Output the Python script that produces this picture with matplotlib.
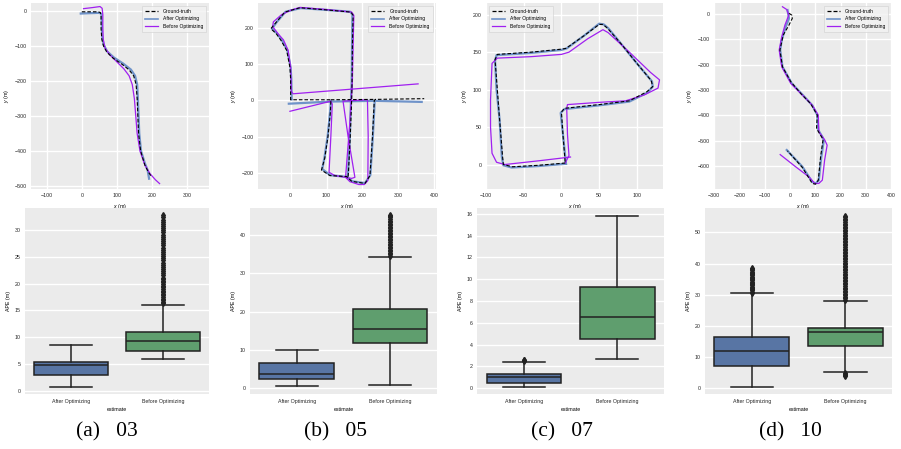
import numpy as np
import matplotlib
matplotlib.use("Agg")
import matplotlib.pyplot as plt
from matplotlib.lines import Line2D

nan = np.nan

# ---------------- trajectory data (metres) ----------------
# Sequence 03
gt03_x = [0, 20, 45, 53, 55, 55, 57, 62, 72, 90, 115, 135, 148, 155, 158, 160, 162, 168, 180, 190, 198]
gt03_y = [-2, -2, -2, -4, -15, -50, -80, -100, -118, -135, -152, -168, -185, -210, -250, -300, -350, -400, -440, -460, -472]
af03_x = [-3, 20, 50, 56, 57, 58, 62, 72, 92, 118, 140, 152, 158, 160, 162, 164, 169, 180, 188, 192]
af03_y = [-7, -6, -5, -8, -30, -70, -95, -115, -133, -150, -167, -185, -210, -250, -300, -350, -400, -435, -455, -479]
bf03_x = [5, 30, 52, 58, 60, 60, 61, 66, 80, 100, 120, 135, 144, 150, 154, 158, 166, 180, 195, 210, 222]
bf03_y = [7, 10, 13, 8, -10, -50, -80, -105, -125, -145, -165, -185, -210, -250, -300, -350, -400, -440, -465, -482, -493]

# Sequence 05
gt05_x = [160, 161, 166, 170, 171, 172, 174, 168, 100, 26, -16, -40, -55, -40, -27, -11, -2, 0, 0,
          112, 111, 104, 95, 86, 109, 156, 170, 207, 221, 228, 233, 236, 372, nan, 112, 236]
gt05_y = [-211, -200, -100, 2, 50, 150, 236, 245, 251, 257, 245, 217, 199, 185, 167, 139, 92, 60, 2,
          2, -30, -100, -160, -193, -208, -211, -224, -230, -208, -100, 0, 3, 5, nan, 2, 3]
af05_x = [158, 160, 165, 168, 170, 171, 172, 166, 100, 28, -14, -38, -52, -38, -25, -9, 0, 2, 3,
          nan, -5, 112, 236, 365,
          nan, 112, 110, 103, 94, 88, 110, 156, 172, 207, 222, 229, 234]
af05_y = [-213, -200, -100, 0, 50, 150, 238, 246, 251, 256, 246, 218, 199, 186, 168, 139, 92, 60, 3,
          nan, -9, -3, -1, -4,
          nan, -3, -30, -100, -160, -190, -207, -212, -224, -229, -207, -100, -3]
bf05_x = [355, 7, 2, 0, -7, -20, -35, -50, -48, -25, 0, 26, 100, 170, 176, 174, 172, 165, 153, 165, 190,
          205, 215, 216, 214, 212, 146, 160, 179, 170, 123, 107, 112, 116, 112, -2]
bf05_y = [46, 18.5, 25, 92, 139, 168, 185, 205, 218, 238, 250, 258, 252, 245, 236, 150, 55, -60, -213, -225, -233,
          -233, -222, -100, 0, 2, -2, -100, -213, -216, -208, -199, -100, -10, -2, -30]

# Sequence 07
gt07_x = [5, -30, -65, -77, -78, -82, -85, -88, -85, -40, 0, 6, 30, 50, 55, 61, 80, 100, 119, 121, 113, 90, 50, 4, 0, 2, 5]
gt07_y = [2, -1, -3, 0, 10, 60, 100, 140, 147, 150, 154, 155, 172, 187, 187, 182, 160, 135, 112, 104, 97, 85, 80, 75, 70, 40, 2]
af07_x = [6, -30, -66, -77, -79, -82, -86, -88, -86, -40, 0, 7, 30, 50, 56, 62, 80, 100, 120, 121, 114, 90, 50, 4, -1, 2, 6]
af07_y = [1, -2, -4, -1, 10, 60, 100, 139, 146, 149, 153, 155, 172, 188, 187, 182, 160, 135, 111, 104, 96, 84, 79, 74, 69, 40, 1]
bf07_x = [12, -30, -75, -86, -92, -94, -94, -92, -85, -40, 0, 10, 35, 55, 62, 90, 118, 130, 128, 110, 85, 50, 8, 7, 8, 10, 5]
bf07_y = [10, 5, 0, 3, 15, 50, 86, 135, 142, 144, 147, 150, 168, 180, 176, 150, 123, 113, 102, 93, 85, 83, 80, 75, 40, 12, 2]

# Sequence 10
gt10_x = [-4, 7, 9, -4, -27, -40, -30, 3, 42, 81, 108, 105, 117, 131, 121, 112, 101, 88, 49, -10]
gt10_y = [3, -4, -17, -43, -83, -142, -208, -267, -313, -353, -399, -452, -472, -495, -564, -656, -672, -669, -606, -540]
af10_x = [-10, -4, -17, -33, -39, -30, 7, 49, 88, 108, 112, 128, 134, 124, 114, 101, 88, 49, -13]
af10_y = [16, -17, -50, -103, -142, -208, -274, -318, -360, -399, -458, -485, -498, -564, -656, -669, -663, -603, -537]
bf10_x = [-30, -13, -5, -20, -33, -43, -33, 3, 49, 88, 112, 114, 138, 147, 137, 128, 114, 98, 75, 22, -39]
bf10_y = [29, 18, -4, -43, -90, -142, -208, -274, -320, -360, -399, -465, -498, -518, -577, -656, -669, -669, -643, -603, -555]

# ---------------- APE box statistics (m) ----------------
estimates = ["After Optimizing", "Before Optimizing"]
ape03_after = dict(whislo=0.8, q1=3.0, med=4.8, q3=5.5, whishi=8.5, fliers=[])
ape03_before = dict(whislo=5.9, q1=7.4, med=9.4, q3=11.0, whishi=16.1,
                    fliers=[16.3, 16.6, 16.9, 17.2, 17.5, 17.8, 18.1, 18.4, 18.7, 19.0, 19.3, 19.6, 19.9, 20.2,
                            20.5, 20.8, 21.1, 21.5, 21.9, 22.3, 22.7, 23.1, 23.5, 23.9, 24.3, 24.7, 25.1, 25.5,
                            25.9, 26.3, 26.7, 27.1, 27.5, 27.9, 28.3, 28.7, 29.1, 29.5, 29.9, 30.3, 30.7, 31.1,
                            31.5, 31.9, 32.3, 32.8])
ape05_after = dict(whislo=0.5, q1=2.3, med=3.8, q3=6.5, whishi=10.1, fliers=[])
ape05_before = dict(whislo=0.8, q1=11.7, med=15.4, q3=20.8, whishi=34.4,
                    fliers=[34.6, 35.0, 35.4, 35.8, 36.2, 36.6, 37.0, 37.4, 37.8, 38.2, 38.6, 39.0, 39.4, 39.8,
                            40.2, 40.6, 41.0, 41.4, 41.8, 42.2, 42.6, 43.0, 43.4, 43.8, 44.2, 44.6, 45.0, 45.2])
ape07_after = dict(whislo=0.15, q1=0.5, med=1.05, q3=1.3, whishi=2.45, fliers=[2.5, 2.55, 2.6])
ape07_before = dict(whislo=2.65, q1=4.55, med=6.55, q3=9.25, whishi=15.8, fliers=[])
ape10_after = dict(whislo=0.5, q1=7.2, med=12.0, q3=16.5, whishi=30.4,
                   fliers=[30.6, 31.0, 31.4, 31.8, 32.2, 32.6, 33.0, 33.4, 33.8, 34.2, 34.6, 35.0, 35.4, 35.8,
                           36.2, 36.6, 37.0, 37.4, 37.8, 38.2, 38.5])
ape10_before = dict(whislo=5.1, q1=13.7, med=18.0, q3=19.5, whishi=28.1,
                    fliers=[4.0, 4.3, 4.6, 4.9, 28.3, 28.8, 29.3, 29.8, 30.3, 30.8, 31.3, 31.8, 32.3, 32.8,
                            33.3, 33.8, 34.3, 34.8, 35.3, 35.8, 36.3, 36.8, 37.3, 37.8, 38.3, 38.8, 39.3, 39.8,
                            40.3, 40.8, 41.3, 41.8, 42.3, 42.8, 43.3, 43.8, 44.3, 44.8, 45.3, 45.8, 46.3, 46.8,
                            47.3, 47.8, 48.3, 48.8, 49.3, 49.8, 50.3, 50.8, 51.3, 51.8, 52.3, 52.8, 53.3, 53.8,
                            54.3, 54.8, 55.3])

captions = ["(a)   03", "(b)   05", "(c)   07", "(d)   10"]
legend_labels = ["Ground-truth", "After Optimizing", "Before Optimizing"]

# ---------------- styling ----------------
W, H = 901, 449
BG = "#EBEBEB"
C_GT = "black"
C_AF = "#6F93C9"
C_BF = "#A020F0"
C_BOX = ["#5875A4", "#5F9E6E"]
LINEC = "#222222"
TICK_FS = 3.8

plt.rcParams["font.family"] = ["Liberation Sans", "DejaVu Sans"]
plt.rcParams["mathtext.fontset"] = "custom"
plt.rcParams["mathtext.it"] = "Liberation Sans:italic"
plt.rcParams["mathtext.rm"] = "Liberation Sans"

fig = plt.figure(figsize=(W / 100, H / 100), dpi=100)
fig.patch.set_facecolor("white")


def box(x0, y0, x1, y1):
    return [x0 / W, 1 - y1 / H, (x1 - x0) / W, (y1 - y0) / H]


def style(ax):
    ax.set_facecolor(BG)
    for s in ax.spines.values():
        s.set_visible(False)
    ax.tick_params(length=0, pad=3.3, labelsize=TICK_FS, colors="#262626")
    ax.set_axisbelow(True)


top_boxes = [(31, 2.7, 209, 188.5), (258.3, 2.7, 435.7, 188.5), (486, 2.7, 663.3, 188.5), (714.3, 2.7, 891, 188.5)]
bot_boxes = [(25, 208.3, 209, 394.3), (250, 208.3, 436.7, 394.3), (477.3, 208.3, 664, 394.3), (705, 208.3, 892.3, 394.3)]

trajs = [
    (gt03_x, gt03_y, af03_x, af03_y, bf03_x, bf03_y),
    (gt05_x, gt05_y, af05_x, af05_y, bf05_x, bf05_y),
    (gt07_x, gt07_y, af07_x, af07_y, bf07_x, bf07_y),
    (gt10_x, gt10_y, af10_x, af10_y, bf10_x, bf10_y),
]
xlims = [(-145, 363), (-90, 404), (-100, 135), (-300, 400)]
ylims = [(-507, 24), (-244, 271), (-32, 216), (-689, 45)]
xticks = [[-100, 0, 100, 200, 300], [0, 100, 200, 300, 400], [-100, -50, 0, 50, 100],
          [-300, -200, -100, 0, 100, 200, 300, 400]]
yticks = [[0, -100, -200, -300, -400, -500], [-200, -100, 0, 100, 200], [0, 50, 100, 150, 200],
          [0, -100, -200, -300, -400, -500, -600]]
leg_loc = ["upper right", "upper right", "upper left", "upper right"]

apes = [(ape03_after, ape03_before), (ape05_after, ape05_before),
        (ape07_after, ape07_before), (ape10_after, ape10_before)]
bylims = [(-0.6, 34.0), (-1.6, 47.0), (-0.55, 16.5), (-1.9, 57.7)]
byticks = [[0, 5, 10, 15, 20, 25, 30], [0, 10, 20, 30, 40], [0, 2, 4, 6, 8, 10, 12, 14, 16],
           [0, 10, 20, 30, 40, 50]]
cap_x = [106.5, 335, 561.5, 790]

for i in range(4):
    ax = fig.add_axes(box(*top_boxes[i]))
    style(ax)
    ax.grid(True, color="white", lw=1.0)
    gx, gy, ax_, ay, bx, by = trajs[i]
    ax.plot(ax_, ay, color=C_AF, lw=1.6, zorder=2)
    ax.plot(bx, by, color=C_BF, lw=0.9, zorder=3)
    ax.plot(gx, gy, color=C_GT, lw=0.8, ls=(0, (3.2, 1.8)), zorder=4)
    ax.set_xlim(*xlims[i])
    ax.set_ylim(*ylims[i])
    ax.set_xticks(xticks[i])
    ax.set_yticks(yticks[i])
    ax.set_xlabel("$x$ (m)", fontsize=TICK_FS, labelpad=2.5)
    ax.set_ylabel("$y$ (m)", fontsize=TICK_FS, labelpad=2.5)
    handles = [Line2D([], [], color=C_GT, lw=0.9, ls=(0, (3.2, 1.6))),
               Line2D([], [], color=C_AF, lw=1.2),
               Line2D([], [], color=C_BF, lw=0.9)]
    leg = ax.legend(handles, legend_labels, loc=leg_loc[i], fontsize=3.6, frameon=True,
                    handlelength=2.6, borderpad=0.6, labelspacing=0.55, handletextpad=1.0,
                    borderaxespad=0.6, fancybox=False)
    leg.get_frame().set_facecolor("#F2F2F2")
    leg.get_frame().set_edgecolor("#CFCFCF")
    leg.get_frame().set_linewidth(0.5)

    bx_ax = fig.add_axes(box(*bot_boxes[i]))
    style(bx_ax)
    bx_ax.grid(True, axis="y", color="white", lw=1.0)
    a_st, b_st = apes[i]
    stats = [dict(a_st, label=estimates[0]), dict(b_st, label=estimates[1])]
    res = bx_ax.bxp(stats, positions=[0, 1], widths=0.8, capwidths=0.45, patch_artist=True,
                    boxprops=dict(edgecolor=LINEC, linewidth=1.1),
                    whiskerprops=dict(color=LINEC, linewidth=1.1),
                    capprops=dict(color=LINEC, linewidth=1.1),
                    medianprops=dict(color=LINEC, linewidth=1.1),
                    flierprops=dict(marker="d", markersize=3.0, markerfacecolor=LINEC,
                                    markeredgecolor=LINEC, linestyle="none"))
    for p, c in zip(res["boxes"], C_BOX):
        p.set_facecolor(c)
    bx_ax.set_xlim(-0.5, 1.5)
    bx_ax.set_ylim(*bylims[i])
    bx_ax.set_yticks(byticks[i])
    bx_ax.set_xticks([0, 1])
    bx_ax.set_xticklabels(estimates)
    bx_ax.set_xlabel("estimate", fontsize=TICK_FS, labelpad=2.0)
    bx_ax.set_ylabel("APE (m)", fontsize=TICK_FS, labelpad=2.5)

    fig.text(cap_x[i] / W, 1 - 432 / H, captions[i], ha="center", va="center",
             fontsize=15.5, family=["Liberation Serif", "DejaVu Serif"])

fig.savefig("out.png", dpi=100)
